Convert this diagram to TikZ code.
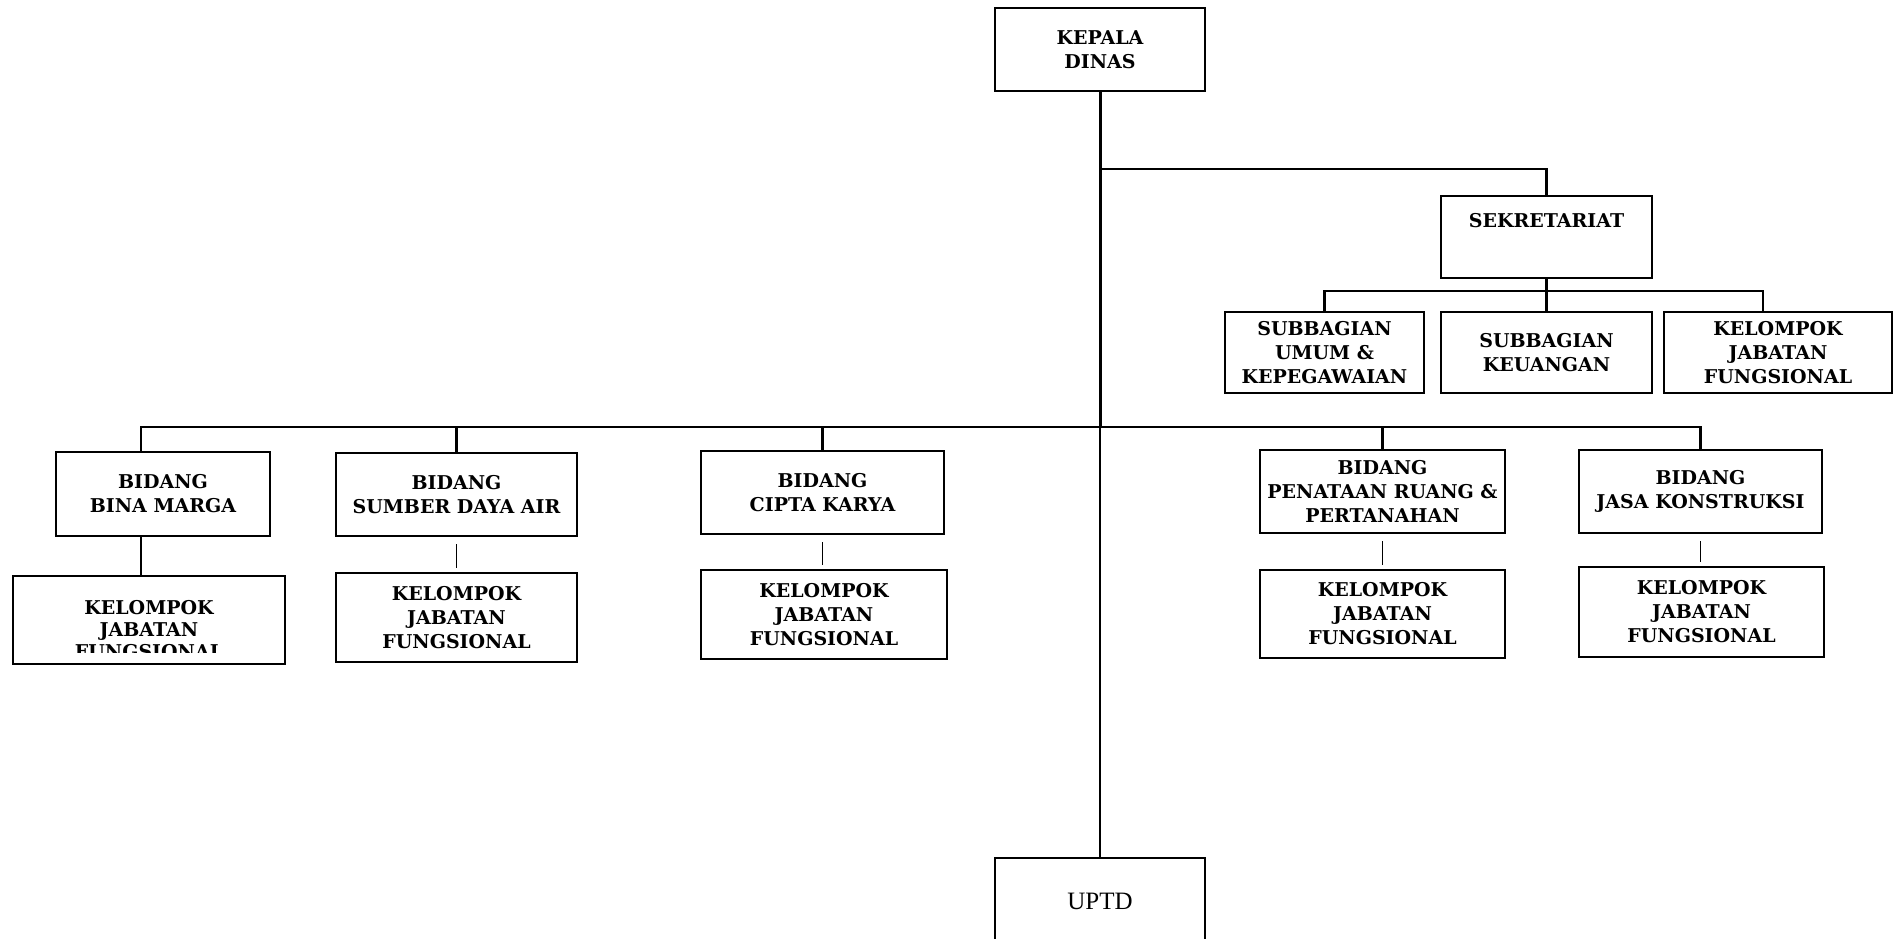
\documentclass[tikz,border=0pt]{standalone}
\usepackage{fontspec}
\setmainfont{DejaVu Serif}
\newfontfamily\uptdfont{Liberation Serif}
\usetikzlibrary{positioning}

\tikzset{
  unit/.style={draw,line width=1pt,align=center,inner sep=0pt,
               font=\bfseries\fontsize{9.5}{12}\selectfont},
  trunk/.style={line width=1.5pt},
  bar/.style={line width=1.2pt},
  link/.style={line width=0.6pt,shorten <=3.5pt,shorten >=2pt},
}

\begin{document}
\begin{tikzpicture}[x=0.5pt,y=-0.5pt]
  \useasboundingbox (0,0) rectangle (1896,938);
  \clip (0,0) rectangle (1896,938);
  %% Top
  \node[unit,minimum width=105pt,minimum height=41.5pt] (kadis) at (1100,49.5)
       {KEPALA\\DINAS};
  \node[unit,minimum width=105pt,minimum height=43pt,font=\uptdfont\fontsize{12.5}{14}\selectfont]
       (uptd) at (1100,901) {UPTD};
  %% Sekretariat
  \node[unit,minimum width=105.5pt,minimum height=41pt] (sekret) at (1546.5,237)
       {SEKRETARIAT\\[5pt]\mbox{}};
  \node[unit,minimum width=99.5pt,minimum height=40.5pt] (sub1) at (1324.5,352.5)
       {SUBBAGIAN\\UMUM \&\\KEPEGAWAIAN};
  \node[unit,minimum width=105.5pt,minimum height=40.5pt] (sub2) at (1546.5,352.5)
       {SUBBAGIAN\\KEUANGAN};
  \node[unit,minimum width=114pt,minimum height=40.5pt] (sekkjf) at (1778,352.5)
       {KELOMPOK\\JABATAN\\FUNGSIONAL};
  %% Bidang
  \node[unit,minimum width=107pt,minimum height=42pt] (b1) at (163,494)
       {BIDANG\\BINA MARGA};
  \node[unit,minimum width=120.5pt,minimum height=41.5pt] (b2) at (456.5,494.5)
       {BIDANG\\SUMBER DAYA AIR};
  \node[unit,minimum width=121.5pt,minimum height=41.5pt] (b3) at (822.5,492.5)
       {BIDANG\\CIPTA KARYA};
  \node[unit,minimum width=122.5pt,minimum height=41.5pt] (b4) at (1382.5,491.5)
       {BIDANG\\PENATAAN RUANG \&\\PERTANAHAN};
  \node[unit,minimum width=121.5pt,minimum height=41.5pt] (b5) at (1700.5,491.5)
       {BIDANG\\JASA KONSTRUKSI};
  %% Kelompok jabatan fungsional
  \node[unit,minimum width=136pt,minimum height=44pt] (k1) at (149,619.5) {};
  \begin{scope}
    \clip ([yshift=6pt]k1.south west) rectangle (k1.north east);
    \node[align=center,font=\bfseries\fontsize{9.5}{11}\selectfont] (k1txt) at (149,630)
         {KELOMPOK\\JABATAN\\FUNGSIONAL};
  \end{scope}
  \node[unit,minimum width=120.5pt,minimum height=44.5pt] (k2) at (456.5,617.5)
       {KELOMPOK\\JABATAN\\FUNGSIONAL};
  \node[unit,minimum width=123pt,minimum height=44.5pt] (k3) at (824,614.5)
       {KELOMPOK\\JABATAN\\FUNGSIONAL};
  \node[unit,minimum width=122.5pt,minimum height=44pt] (k4) at (1382.5,614)
       {KELOMPOK\\JABATAN\\FUNGSIONAL};
  \node[unit,minimum width=122.5pt,minimum height=45pt] (k5) at (1701.5,612)
       {KELOMPOK\\JABATAN\\FUNGSIONAL};
  %% Lines
  \coordinate (sekjoint) at (1100,169);
  \coordinate (hub) at (1100,427);
  \coordinate (sekbar) at (1546.5,291);
  \draw[trunk] (kadis.south) -- (hub);
  \draw[line width=1pt] (hub) -- (uptd.north);
  \draw[bar] (sekjoint) -| (sekret.north);
  \draw[bar] (sekret.south) -- (sekbar);
  \draw[bar] (sub1.north) |- (sekbar) -| ([xshift=-7.5pt]sekkjf.north);
  \draw[bar] (sekbar) -- (sub2.north);
  \draw[bar] ([xshift=-11pt]b1.north) |- (hub) -| (b5.north);
  \foreach \b in {b2,b3,b4}
    \draw[bar] (\b.north) -- (\b.north |- hub);
  \draw[bar] ([xshift=-11pt]b1.south) -- ([xshift=-11pt]b1.south |- k1.north);
  \foreach \i in {2,...,5}
    \draw[link] (b\i.south) -- (b\i.south |- k\i.north);
\end{tikzpicture}
\end{document}
